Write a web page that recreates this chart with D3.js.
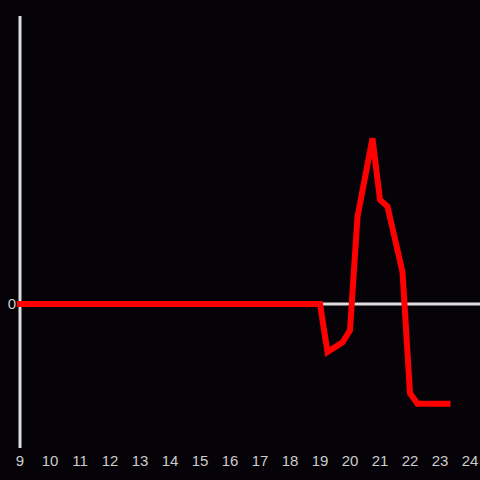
<!DOCTYPE html>
<html><head><meta charset="utf-8">
<script src="https://cdn.jsdelivr.net/npm/d3@7"></script>
<style>html,body{margin:0;padding:0;background:#050307;}svg{display:block;}</style>
</head><body>
<script>
const hours = [9,10,11,12,13,14,15,16,17,18,19,19.25,19.75,20,20.25,20.75,21,21.25,21.75,22,22.25,23.25];
const values = [0,0,0,0,0,0,0,0,0,0,0,-1.0,-0.8,-0.55,1.82,3.45,2.17,2.03,0.67,-1.86,-2.08,-2.08];
const xTicks = [9,10,11,12,13,14,15,16,17,18,19,20,21,22,23,24];
const yTicks = [0];

const W = 480, H = 480;
const svg = d3.select("body").append("svg").attr("width", W).attr("height", H);
svg.append("rect").attr("width", W).attr("height", H).attr("fill", "#050307");

const x = d3.scaleLinear().domain([9, 24]).range([20, 470]);
const y = d3.scaleLinear().domain([-3, 6]).range([448, 16]);

// y axis line
svg.append("line").attr("x1", x(9)).attr("x2", x(9)).attr("y1", 16).attr("y2", 448)
  .attr("stroke", "#dddddd").attr("stroke-width", 3);
// zero line
svg.append("line").attr("x1", x(9)).attr("x2", 480).attr("y1", y(0)).attr("y2", y(0))
  .attr("stroke", "#dddddd").attr("stroke-width", 3);

// y tick labels
svg.selectAll("text.yt").data(yTicks).enter().append("text")
  .attr("x", 16).attr("y", d => y(d)).attr("dy", "0.35em")
  .attr("text-anchor", "end").attr("fill", "#cccccc")
  .attr("font-family", "Liberation Sans, Arial, sans-serif").attr("font-size", 15)
  .text(d => d);

// x tick labels
svg.selectAll("text.xt").data(xTicks).enter().append("text")
  .attr("x", d => x(d)).attr("y", 466)
  .attr("text-anchor", "middle").attr("fill", "#cccccc")
  .attr("font-family", "Liberation Sans, Arial, sans-serif").attr("font-size", 15)
  .text(d => d);

const data = hours.map((h, i) => ({h, v: values[i]}));
const line = d3.line().x(d => x(d.h)).y(d => y(d.v));
svg.append("path").datum(data).attr("d", line)
  .attr("fill", "none").attr("stroke", "#ff0000").attr("stroke-width", 6)
  .attr("stroke-linecap", "square").attr("stroke-linejoin", "miter");
</script>
</body></html>
